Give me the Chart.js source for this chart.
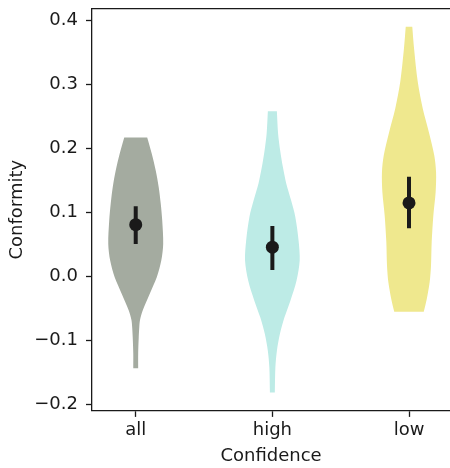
<!DOCTYPE html>
<html>
<head>
<meta charset="utf-8">
<script src="https://cdn.jsdelivr.net/npm/chart.js@4/dist/chart.umd.min.js"></script>
<style>
  html, body { margin: 0; padding: 0; background: #fff; }
  #wrap { width: 450px; height: 468px; position: relative; }
</style>
</head>
<body>
<div id="wrap"><canvas id="chart"></canvas></div>
<script>
const categories = ['all', 'high', 'low'];
const yTicks = [-0.2, -0.1, 0.0, 0.1, 0.2, 0.3, 0.4];

// violin outlines: y levels (top to bottom) and half widths in category units
const allLevels = [0.217, 0.192, 0.166, 0.140, 0.114, 0.0875, 0.051, 0.025, -0.001, -0.027, -0.053, -0.068, -0.079, -0.095, -0.120, -0.143];
const allHalf = [0.084, 0.117, 0.146, 0.168, 0.183, 0.194, 0.201, 0.187, 0.154, 0.102, 0.051, 0.031, 0.026, 0.022, 0.018, 0.018];

const highLevels = [0.258, 0.223, 0.197, 0.171, 0.145, 0.119, 0.093, 0.056, 0.025, -0.006, -0.0375, -0.064, -0.0896, -0.116, -0.142, -0.181];
const highHalf = [0.033, 0.042, 0.057, 0.077, 0.102, 0.137, 0.168, 0.192, 0.200, 0.177, 0.132, 0.088, 0.055, 0.033, 0.022, 0.018];

const lowLevels = [0.390, 0.356, 0.304, 0.262, 0.225, 0.189, 0.163, 0.132, 0.095, 0.054, 0.017, -0.009, -0.035, -0.055];
const lowHalf = [0.024, 0.037, 0.064, 0.101, 0.146, 0.185, 0.198, 0.195, 0.178, 0.166, 0.161, 0.151, 0.130, 0.108];

const means = [0.081, 0.046, 0.115];
const ciLow = [0.051, 0.0105, 0.0755];
const ciHigh = [0.110, 0.079, 0.156];

const colors = ['#a4aba0', '#bdebe6', '#efe88e'];
const ink = '#1a1a1a';
const font = 'DejaVu Sans';

// closed outline; corner points are doubled so the flat ends stay sharp
function violinShape(pos, levels, half) {
    const left = levels.map((y, k) => ({ x: pos - half[k], y: y }));
    const right = levels.map((y, k) => ({ x: pos + half[k], y: y })).reverse();
    const n = left.length;
    return [
        left[0], ...left.slice(1, n - 1), left[n - 1], left[n - 1],
        right[0], right[0], ...right.slice(1, n - 1), right[n - 1], right[n - 1],
        left[0]
    ];
}

const profiles = [[allLevels, allHalf], [highLevels, highHalf], [lowLevels, lowHalf]];

const datasets = [];
profiles.forEach(([levels, half], i) => {
    datasets.push({
        data: violinShape(i, levels, half),
        showLine: true,
        fill: 'shape',
        backgroundColor: colors[i],
        borderWidth: 0,
        borderColor: colors[i],
        pointRadius: 0,
        tension: 0.3,
        order: 3
    });
    datasets.push({
        data: [{ x: i, y: ciLow[i] }, { x: i, y: ciHigh[i] }],
        showLine: true,
        borderColor: ink,
        borderWidth: 4,
        pointRadius: 0,
        order: 2
    });
});
datasets.push({
    data: means.map((m, i) => ({ x: i, y: m })),
    showLine: false,
    pointRadius: 6.5,
    pointBackgroundColor: ink,
    pointBorderWidth: 0,
    order: 1
});

const xMin = -0.32, xMax = 2.30;

new Chart(document.getElementById('chart'), {
    type: 'scatter',
    data: { datasets: datasets },
    options: {
        responsive: true,
        maintainAspectRatio: false,
        animation: false,
        events: [],
        layout: { autoPadding: false, padding: { top: 8.4, right: 0, bottom: 0, left: 0 } },
        plugins: { legend: { display: false }, tooltip: { enabled: false } },
        scales: {
            x: {
                type: 'linear',
                min: xMin,
                max: xMax,
                afterBuildTicks: scale => { scale.ticks = categories.map((c, i) => ({ value: i })); },
                afterFit: scale => { scale.height = 57.1; },
                ticks: {
                    callback: v => categories[v],
                    color: ink,
                    font: { family: font, size: 18 },
                    padding: 3,
                    maxRotation: 0,
                    autoSkip: false
                },
                grid: { drawOnChartArea: false, drawTicks: true, tickLength: 6, tickColor: ink, tickWidth: 1.3 },
                border: { display: true, color: ink, width: 1.3 },
                title: {
                    display: true,
                    text: 'Confidence',
                    color: ink,
                    font: { family: font, size: 18 },
                    padding: { top: 0, bottom: 1 }
                }
            },
            xTop: {
                type: 'linear',
                position: 'top',
                min: xMin,
                max: xMax,
                afterFit: scale => { scale.height = 0; },
                ticks: { display: false },
                grid: { drawOnChartArea: false, drawTicks: false },
                border: { display: true, color: ink, width: 1.3 }
            },
            y: {
                type: 'linear',
                min: -0.2096,
                max: 0.4186,
                afterBuildTicks: scale => { scale.ticks = yTicks.map(v => ({ value: v })); },
                afterFit: scale => {
                    scale.width = 92;
                    scale.paddingTop = 0;
                    scale.paddingBottom = 0;
                },
                ticks: {
                    callback: v => (v < -1e-9 ? '\u2212' : '') + Math.abs(v).toFixed(1),
                    color: ink,
                    font: { family: font, size: 18 },
                    padding: 8
                },
                grid: { drawOnChartArea: false, drawTicks: true, tickLength: 6, tickColor: ink, tickWidth: 1.3 },
                border: { display: true, color: ink, width: 1.3 },
                title: {
                    display: true,
                    text: 'Conformity',
                    color: ink,
                    font: { family: font, size: 18 },
                    padding: { top: 7, bottom: 0 }
                }
            }
        }
    }
});
</script>
</body>
</html>
